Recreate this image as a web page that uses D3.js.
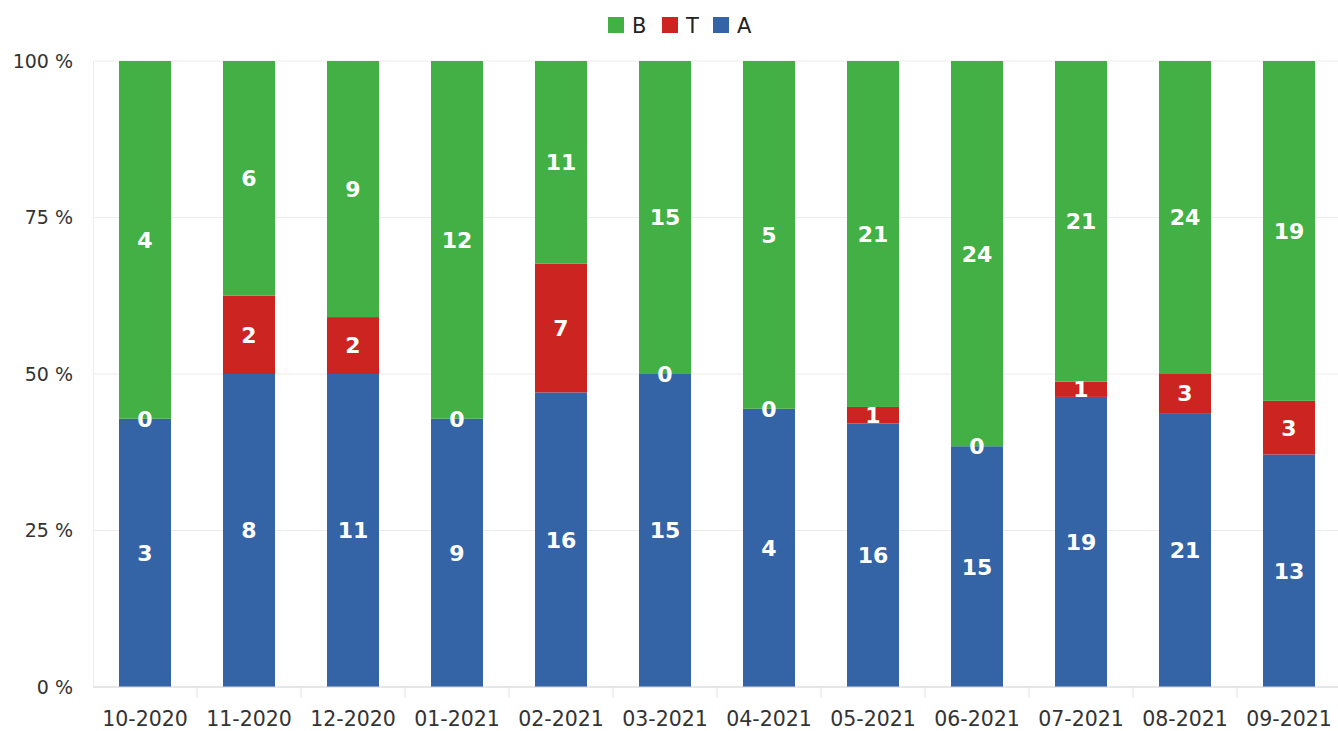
<!DOCTYPE html>
<html>
<head>
<meta charset="utf-8">
<script src="https://cdn.jsdelivr.net/npm/d3@7"></script>
<style>
  body { margin: 0; background: #fff; overflow: hidden; }
  text { font-family: "DejaVu Sans", sans-serif; }
</style>
</head>
<body>
<div id="chart"></div>
<script>
// data
const months = ["10-2020", "11-2020", "12-2020", "01-2021", "02-2021", "03-2021",
                "04-2021", "05-2021", "06-2021", "07-2021", "08-2021", "09-2021"];
const seriesA = [3, 8, 11, 9, 16, 15, 4, 16, 15, 19, 21, 13];
const seriesT = [0, 2, 2, 0, 7, 0, 0, 1, 0, 1, 3, 3];
const seriesB = [4, 6, 9, 12, 11, 15, 5, 21, 24, 21, 24, 19];
const yTicks = [0, 0.25, 0.5, 0.75, 1];

const keys = ["A", "T", "B"];
const legendKeys = ["B", "T", "A"];
const color = d3.scaleOrdinal()
    .domain(keys)
    .range(["#3464a6", "#cc2420", "#42b045"]);

const W = 1338, H = 731;
const margin = { top: 61, left: 93 },
    width = 1248,
    height = 626;

const rows = months.map((m, i) => ({ month: m, A: seriesA[i], T: seriesT[i], B: seriesB[i] }));

const svg = d3.select("#chart")
    .append("svg")
    .attr("width", W)
    .attr("height", H);

const g = svg.append("g")
    .attr("transform", `translate(${margin.left}, ${margin.top})`);

const x = d3.scaleBand()
    .domain(months)
    .range([0, width])
    .paddingInner(0.5)
    .paddingOuter(0.25);

const y = d3.scaleLinear()
    .domain([0, 1])
    .range([height, 0]);

// grid lines
g.append("g")
    .selectAll("line")
    .data(yTicks)
    .enter()
    .append("line")
    .attr("x1", 0)
    .attr("x2", width)
    .attr("y1", d => y(d))
    .attr("y2", d => y(d))
    .attr("stroke", "#ececec")
    .attr("stroke-width", 1);

g.append("line")
    .attr("x1", 0.5).attr("x2", 0.5)
    .attr("y1", 0).attr("y2", height)
    .attr("stroke", "#ececec");

// y axis labels
g.append("g")
    .selectAll("text")
    .data(yTicks)
    .enter()
    .append("text")
    .attr("x", -20)
    .attr("y", d => y(d))
    .attr("dy", "0.35em")
    .attr("text-anchor", "end")
    .attr("fill", "#333")
    .style("font-size", "19px")
    .text(d => Math.round(d * 100) + " %");

// stacked bars, normalised to 100 %
const stack = d3.stack().keys(keys).offset(d3.stackOffsetExpand);
const layers = stack(rows);

g.append("g")
    .selectAll("g")
    .data(layers)
    .enter()
    .append("g")
    .attr("fill", d => color(d.key))
    .selectAll("rect")
    .data(d => d)
    .enter()
    .append("rect")
    .attr("x", d => x(d.data.month))
    .attr("y", d => y(d[1]))
    .attr("width", x.bandwidth())
    .attr("height", d => y(d[0]) - y(d[1]));

// value labels
layers.forEach(layer => {
    g.append("g")
        .selectAll("text")
        .data(layer)
        .enter()
        .append("text")
        .attr("x", d => x(d.data.month) + x.bandwidth() / 2)
        .attr("y", d => y((d[0] + d[1]) / 2))
        .attr("dy", "0.36em")
        .attr("text-anchor", "middle")
        .attr("fill", "#fff")
        .style("font-size", "22px")
        .style("font-weight", "bold")
        .text(d => d.data[layer.key]);
});

// x axis
const xAxis = g.append("g")
    .attr("transform", `translate(0, ${height})`);

xAxis.append("line")
    .attr("x1", 0).attr("x2", width)
    .attr("stroke", "#d8d8d8");

xAxis.selectAll("line.tick")
    .data(months.slice(1))
    .enter()
    .append("line")
    .attr("class", "tick")
    .attr("x1", d => x(d) - x.step() * x.paddingInner() / 2)
    .attr("x2", d => x(d) - x.step() * x.paddingInner() / 2)
    .attr("y1", 0)
    .attr("y2", 11)
    .attr("stroke", "#e2e2e2");

xAxis.selectAll("text")
    .data(months)
    .enter()
    .append("text")
    .attr("x", d => x(d) + x.bandwidth() / 2)
    .attr("y", 39)
    .attr("text-anchor", "middle")
    .attr("fill", "#333")
    .style("font-size", "20.5px")
    .text(d => d);

// legend
const legend = svg.append("g").attr("transform", "translate(608, 17)");
const lx = [0, 54, 105];
legendKeys.forEach((k, i) => {
    legend.append("rect")
        .attr("x", lx[i])
        .attr("y", 0)
        .attr("width", 16)
        .attr("height", 16)
        .attr("fill", color(k));
    legend.append("text")
        .attr("x", lx[i] + 24)
        .attr("y", 8)
        .attr("dy", "0.36em")
        .attr("fill", "#222")
        .style("font-size", "21px")
        .text(k);
});
</script>
</body>
</html>
